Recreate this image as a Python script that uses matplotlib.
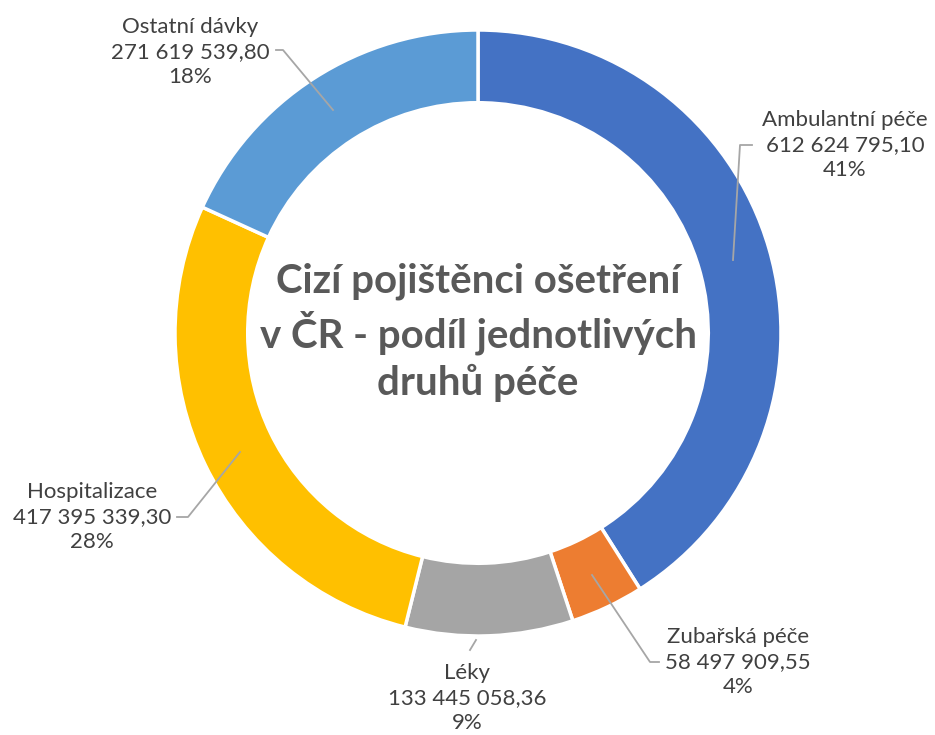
#!/usr/bin/env python3
import matplotlib
matplotlib.use("Agg")
import matplotlib.pyplot as plt

# data
categories = ["Ambulantní péče", "Zubařská péče", "Léky", "Hospitalizace", "Ostatní dávky"]
values = [612624795.10, 58497909.55, 133445058.36, 417395339.30, 271619539.80]
colors = ["#4472C4", "#ED7D31", "#A5A5A5", "#FFC000", "#5B9BD5"]

# label placement in pixel coords (x, y from top), text anchor / leader points
label_pos = [(845, 145), (738, 662), (467, 698), (92, 517), (190, 52)]
leaders = [
    [(752, 145), (740, 145), (733, 260)],
    [(659, 662), (650, 662), (592, 575)],
    [(476, 640), (470, 650)],
    [(177, 517), (188, 517), (240, 452)],
    [(276, 50), (283, 50), (333, 110)],
]

W, H = 935, 735
plt.rcParams["font.family"] = ["Lato", "DejaVu Sans"]

fig = plt.figure(figsize=(W / 100, H / 100), dpi=100)
ax = fig.add_axes([0, 0, 1, 1])

cx, cy, r = 478, H - 333, 303
ax.pie(values, colors=colors, startangle=90, counterclock=False,
       center=(cx, cy), radius=r,
       wedgeprops=dict(width=r * 0.24, edgecolor="white", linewidth=2.5))
ax.set_xlim(0, W)
ax.set_ylim(0, H)
ax.set_aspect("equal")
ax.axis("off")

total = sum(values)
for cat, v, (px, py), pts in zip(categories, values, label_pos, leaders):
    num = f"{v:,.2f}".replace(",", " ").replace(".", ",")
    pct = f"{round(v / total * 100)}%"
    ax.text(px, H - py, f"{cat}\n{num}\n{pct}", ha="center", va="center",
            fontsize=16, color="#404040", linespacing=1.32)
    xs = [p[0] for p in pts]
    ys = [H - p[1] for p in pts]
    ax.plot(xs, ys, color="#A6A6A6", lw=1.3)

ax.text(cx, H - 332, "Cizí pojištěnci ošetření\nv ČR - podíl jednotlivých\ndruhů péče",
        ha="center", va="center", fontsize=29, fontweight="bold",
        color="#595959", linespacing=1.28)

fig.savefig("out.png", dpi=100)
